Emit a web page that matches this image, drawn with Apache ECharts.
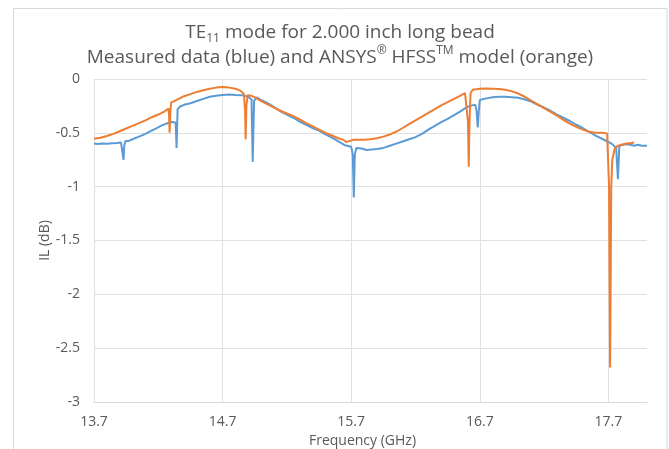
<!DOCTYPE html>
<html>
<head>
<meta charset="utf-8">
<script src="https://cdn.jsdelivr.net/npm/echarts@6/dist/echarts.min.js"></script>
<style>
  html, body { margin: 0; padding: 0; background: #fff; }
  #chart { width: 669px; height: 449px; }
</style>
</head>
<body>
<div id="chart"></div>
<script>
// Measured insertion loss (blue trace), frequency in GHz and IL in dB
const measuredFreq = [
  13.70, 13.73, 13.76, 13.80, 13.84, 13.88, 13.91, 13.925, 13.930, 13.935,
  13.945, 13.97, 14.00, 14.03, 14.06, 14.10, 14.14, 14.18, 14.22, 14.26,
  14.30, 14.335, 14.342, 14.350, 14.37, 14.40, 14.45, 14.50, 14.55, 14.60,
  14.65, 14.70, 14.75, 14.80, 14.85, 14.90, 14.925, 14.934, 14.945, 14.965,
  15.00, 15.05, 15.10, 15.15, 15.20, 15.25, 15.30, 15.35, 15.40, 15.45,
  15.50, 15.55, 15.60, 15.65, 15.70, 15.712, 15.720, 15.728, 15.74, 15.78,
  15.82, 15.86, 15.90, 15.95, 16.00, 16.05, 16.10, 16.15, 16.20, 16.25,
  16.30, 16.35, 16.40, 16.45, 16.50, 16.55, 16.60, 16.64, 16.665, 16.675,
  16.684, 16.692, 16.700, 16.75, 16.80, 16.85, 16.90, 16.95, 17.00, 17.05,
  17.10, 17.15, 17.20, 17.25, 17.30, 17.35, 17.40, 17.45, 17.50, 17.55,
  17.60, 17.65, 17.70, 17.73, 17.76, 17.774, 17.785, 17.80, 17.84, 17.87,
  17.90, 17.93, 17.96, 18.00
];
const measuredIL = [
  -0.600, -0.603, -0.598, -0.602, -0.597, -0.594, -0.590, -0.600, -0.750, -0.620,
  -0.575, -0.575, -0.560, -0.545, -0.530, -0.510, -0.485, -0.460, -0.435, -0.415,
  -0.400, -0.405, -0.640, -0.280, -0.255, -0.240, -0.225, -0.205, -0.185, -0.165,
  -0.155, -0.148, -0.145, -0.148, -0.150, -0.165, -0.190, -0.770, -0.200, -0.170,
  -0.195, -0.225, -0.260, -0.300, -0.330, -0.360, -0.395, -0.425, -0.455, -0.480,
  -0.515, -0.545, -0.580, -0.615, -0.630, -0.700, -1.100, -0.700, -0.640, -0.645,
  -0.660, -0.655, -0.650, -0.640, -0.620, -0.600, -0.580, -0.560, -0.540, -0.510,
  -0.470, -0.435, -0.400, -0.370, -0.335, -0.300, -0.260, -0.245, -0.240, -0.300,
  -0.450, -0.300, -0.195, -0.180, -0.170, -0.165, -0.165, -0.170, -0.175, -0.190,
  -0.210, -0.240, -0.265, -0.295, -0.330, -0.360, -0.390, -0.425, -0.455, -0.490,
  -0.525, -0.555, -0.585, -0.605, -0.640, -0.930, -0.620, -0.610, -0.605, -0.610,
  -0.620, -0.610, -0.620, -0.620
];

// HFSS model insertion loss (orange trace)
const modelFreq = [
  13.70, 13.75, 13.80, 13.85, 13.90, 13.95, 14.00, 14.05, 14.10, 14.15,
  14.20, 14.25, 14.28, 14.284, 14.288, 14.294, 14.30, 14.35, 14.40, 14.45,
  14.50, 14.55, 14.60, 14.65, 14.70, 14.75, 14.80, 14.84, 14.865, 14.875,
  14.879, 14.885, 14.895, 14.92, 14.96, 15.00, 15.05, 15.10, 15.15, 15.20,
  15.25, 15.30, 15.35, 15.40, 15.45, 15.50, 15.55, 15.60, 15.64, 15.66,
  15.67, 15.69, 15.72, 15.76, 15.80, 15.85, 15.90, 15.95, 16.00, 16.05,
  16.10, 16.15, 16.20, 16.25, 16.30, 16.35, 16.40, 16.45, 16.50, 16.55,
  16.585, 16.60, 16.608, 16.614, 16.620, 16.628, 16.645, 16.70, 16.75, 16.80,
  16.85, 16.90, 16.95, 17.00, 17.05, 17.10, 17.15, 17.20, 17.25, 17.30,
  17.35, 17.40, 17.45, 17.50, 17.55, 17.60, 17.65, 17.69, 17.70, 17.705,
  17.713, 17.722, 17.73, 17.75, 17.77, 17.80, 17.84, 17.88, 17.90
];
const modelIL = [
  -0.555, -0.545, -0.530, -0.510, -0.485, -0.460, -0.435, -0.410, -0.385, -0.355,
  -0.330, -0.300, -0.275, -0.350, -0.500, -0.300, -0.220, -0.190, -0.160, -0.140,
  -0.120, -0.105, -0.090, -0.080, -0.075, -0.080, -0.090, -0.110, -0.140, -0.300,
  -0.560, -0.250, -0.150, -0.155, -0.175, -0.205, -0.235, -0.265, -0.295, -0.320,
  -0.345, -0.375, -0.410, -0.440, -0.470, -0.500, -0.525, -0.550, -0.565, -0.585,
  -0.590, -0.575, -0.565, -0.565, -0.565, -0.560, -0.550, -0.535, -0.515, -0.490,
  -0.455, -0.420, -0.385, -0.350, -0.315, -0.280, -0.245, -0.215, -0.185, -0.155,
  -0.130, -0.140, -0.400, -0.815, -0.400, -0.130, -0.100, -0.090, -0.088, -0.090,
  -0.092, -0.100, -0.115, -0.135, -0.165, -0.200, -0.235, -0.270, -0.305, -0.340,
  -0.380, -0.415, -0.445, -0.470, -0.490, -0.500, -0.500, -0.505, -0.520, -1.000,
  -2.680, -1.000, -0.750, -0.640, -0.625, -0.610, -0.600, -0.595, -0.590
];

// Tick labels shown on the frequency axis
const freqTicks = [13.7, 14.7, 15.7, 16.7, 17.7];

const FONT = '"Open Sans", sans-serif';
const GREY = '#595959';

const pairs = (xs, ys) => xs.map((x, i) => [x, ys[i]]);

const chart = echarts.init(document.getElementById('chart'), null, { renderer: 'canvas' });

chart.setOption({
  animation: false,
  backgroundColor: '#ffffff',
  graphic: [{
    type: 'rect',
    shape: { x: 13.5, y: 8.5, width: 653.5, height: 460 },
    style: { fill: 'none', stroke: '#d9d9d9', lineWidth: 1 },
    silent: true
  }],
  title: {
    left: 340,
    top: 20,
    padding: 0,
    textAlign: 'center',
    text: '{a|TE}{sub|11}{a| mode for 2.000 inch long bead}\n' +
          '{a|Measured data (blue) and ANSYS}{sup|®}{a| HFSS}{sup|TM}{a| model (orange)}',
    textStyle: {
      fontFamily: FONT,
      fontWeight: 'normal',
      rich: {
        a:   { fontFamily: FONT, fontSize: 19, color: GREY, lineHeight: 25 },
        sub: { fontFamily: FONT, fontSize: 12, color: GREY, lineHeight: 16, verticalAlign: 'bottom' },
        sup: { fontFamily: FONT, fontSize: 12, color: GREY, lineHeight: 16, verticalAlign: 'top' }
      }
    }
  },
  grid: { left: 94, right: 22, top: 79, bottom: 47, containLabel: false, outerBoundsMode: 'none' },
  xAxis: {
    type: 'value',
    min: 13.7,
    max: 18.0,
    interval: 1,
    name: 'Frequency (GHz)',
    nameLocation: 'middle',
    nameGap: 30,
    nameTextStyle: { fontFamily: FONT, fontSize: 14, color: GREY, padding: [0, 16, 0, 0] },
    axisLine: { onZero: false, lineStyle: { color: '#d9d9d9', width: 1 } },
    axisTick: { show: false },
    axisLabel: {
      margin: 13,
      fontFamily: FONT,
      fontSize: 14,
      color: GREY,
      showMaxLabel: false,
      formatter: v => freqTicks.some(t => Math.abs(t - v) < 1e-6) ? v.toFixed(1) : ''
    },
    splitLine: { show: true, showMaxLine: false, lineStyle: { color: '#e0e0e0', width: 1 } }
  },
  yAxis: {
    type: 'value',
    min: -3,
    max: 0,
    interval: 0.5,
    name: 'IL (dB)',
    nameLocation: 'middle',
    nameGap: 42,
    nameMoveOverlap: false,
    nameTextStyle: { fontFamily: FONT, fontSize: 14, color: GREY },
    axisLine: { show: false },
    axisTick: { show: false },
    axisLabel: { margin: 14, fontFamily: FONT, fontSize: 14, color: GREY },
    splitLine: { show: true, lineStyle: { color: '#e0e0e0', width: 1 } }
  },
  series: [
    {
      name: 'Measured',
      type: 'line',
      data: pairs(measuredFreq, measuredIL),
      showSymbol: false,
      lineStyle: { color: '#5B9BD5', width: 2 },
      itemStyle: { color: '#5B9BD5' },
      z: 2
    },
    {
      name: 'HFSS model',
      type: 'line',
      data: pairs(modelFreq, modelIL),
      showSymbol: false,
      lineStyle: { color: '#ED7D31', width: 2 },
      itemStyle: { color: '#ED7D31' },
      z: 3
    }
  ]
});
</script>
</body>
</html>
